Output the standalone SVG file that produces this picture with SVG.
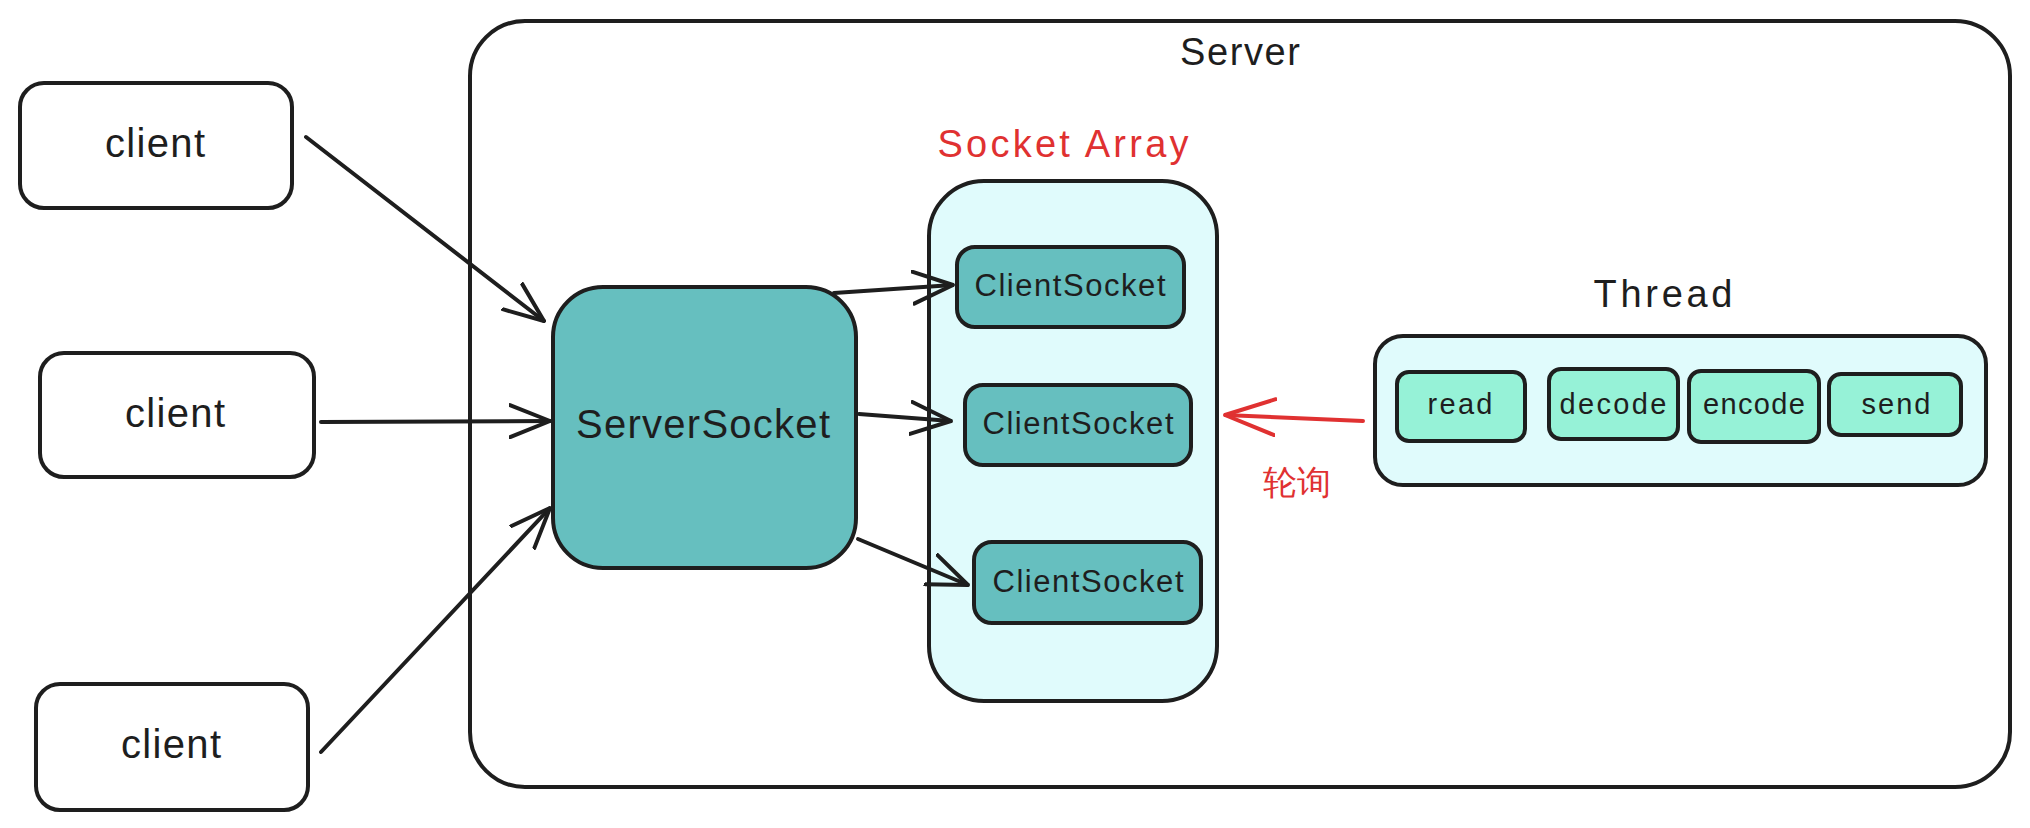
<svg xmlns="http://www.w3.org/2000/svg" width="2030" height="828" viewBox="0 0 2030 828">
<style>
.box{stroke:#1e1e1e;stroke-width:4;stroke-linejoin:round}
.t{font-family:"Liberation Sans","DejaVu Sans",sans-serif;fill:#1e1e1e;text-anchor:middle}
.red{fill:#e03131}
.conn{fill:none;stroke:#1e1e1e;stroke-width:4;stroke-linecap:round}
.rconn{fill:none;stroke:#e03131;stroke-width:4;stroke-linecap:round}
</style>
<defs>
<marker id="ah" viewBox="0 0 42 36" refX="41" refY="18" markerWidth="42" markerHeight="36" markerUnits="userSpaceOnUse" orient="auto">
<path d="M1,2 L41,18 L1,34" fill="none" stroke="#1e1e1e" stroke-width="4" stroke-linecap="round" stroke-linejoin="round"/>
</marker>
<marker id="ahr" viewBox="0 0 52 40" refX="51" refY="20" markerWidth="52" markerHeight="40" markerUnits="userSpaceOnUse" orient="auto">
<path d="M1,2 L51,20 L1,38" fill="none" stroke="#e03131" stroke-width="4" stroke-linecap="round" stroke-linejoin="round"/>
</marker>
</defs>
<rect width="2030" height="828" fill="#ffffff"/>

<g id="server">
<rect class="box" x="470" y="21" width="1540" height="766" rx="55" fill="none"/>
<text class="t" x="1240" y="65" font-size="38" textLength="120">Server</text>
</g>

<g id="client1">
<rect class="box" x="20" y="83" width="272" height="125" rx="24" fill="#ffffff"/>
<text class="t" x="155" y="157" font-size="40" textLength="100">client</text>
</g>
<g id="client2">
<rect class="box" x="40" y="353" width="274" height="124" rx="24" fill="#ffffff"/>
<text class="t" x="175" y="427" font-size="40" textLength="100">client</text>
</g>
<g id="client3">
<rect class="box" x="36" y="684" width="272" height="126" rx="24" fill="#ffffff"/>
<text class="t" x="171" y="758" font-size="40" textLength="100">client</text>
</g>

<g id="serversocket">
<rect class="box" x="553" y="287" width="303" height="281" rx="50" fill="#66bfbf"/>
<text class="t" x="703" y="438" font-size="40" textLength="254">ServerSocket</text>
</g>

<g id="socketarray">
<rect class="box" x="929" y="181" width="288" height="520" rx="55" fill="#e0fbfc"/>
<text class="t red" x="1063" y="157" font-size="38" textLength="251">Socket Array</text>
</g>
<g id="clientsocket1">
<rect class="box" x="957" y="247" width="227" height="80" rx="18" fill="#66bfbf"/>
<text class="t" x="1070" y="296" font-size="31" textLength="191">ClientSocket</text>
</g>
<g id="clientsocket2">
<rect class="box" x="965" y="385" width="226" height="80" rx="18" fill="#66bfbf"/>
<text class="t" x="1078" y="434" font-size="31" textLength="191">ClientSocket</text>
</g>
<g id="clientsocket3">
<rect class="box" x="974" y="542" width="227" height="81" rx="18" fill="#66bfbf"/>
<text class="t" x="1088" y="592" font-size="31" textLength="191">ClientSocket</text>
</g>

<g id="thread">
<rect class="box" x="1375" y="336" width="611" height="149" rx="28" fill="#e0fbfc"/>
<text class="t" x="1663" y="307" font-size="38" textLength="139">Thread</text>
</g>
<g id="read">
<rect class="box" x="1397" y="372" width="128" height="69" rx="12" fill="#96f2d7"/>
<text class="t" x="1460" y="414" font-size="29" textLength="65">read</text>
</g>
<g id="decode">
<rect class="box" x="1549" y="369" width="129" height="70" rx="12" fill="#96f2d7"/>
<text class="t" x="1613" y="414" font-size="29" textLength="107">decode</text>
</g>
<g id="encode">
<rect class="box" x="1689" y="371" width="130" height="71" rx="12" fill="#96f2d7"/>
<text class="t" x="1754" y="414" font-size="29" textLength="102">encode</text>
</g>
<g id="send">
<rect class="box" x="1829" y="374" width="132" height="61" rx="12" fill="#96f2d7"/>
<text class="t" x="1896" y="414" font-size="29" textLength="69">send</text>
</g>

<g id="connectors">
<line class="conn" x1="306" y1="137" x2="544" y2="321" marker-end="url(#ah)"/>
<line class="conn" x1="321" y1="422" x2="550" y2="421" marker-end="url(#ah)"/>
<line class="conn" x1="321" y1="752" x2="550" y2="508" marker-end="url(#ah)"/>
<line class="conn" x1="834" y1="293" x2="953" y2="285" marker-end="url(#ah)"/>
<line class="conn" x1="859" y1="414" x2="951" y2="421" marker-end="url(#ah)"/>
<line class="conn" x1="858" y1="539" x2="968" y2="585" marker-end="url(#ah)"/>
<line class="rconn" x1="1363" y1="421" x2="1225" y2="415" marker-end="url(#ahr)"/>
<text class="t red" x="1297" y="494" font-size="34" font-family="'Noto Sans CJK SC',sans-serif">轮询</text>
</g>
</svg>
